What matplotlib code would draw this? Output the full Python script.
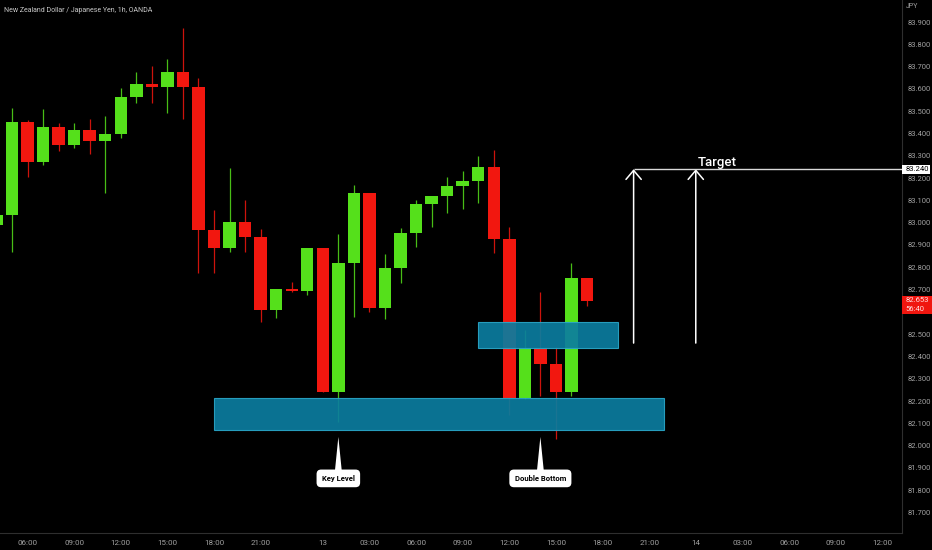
import matplotlib.pyplot as plt
import matplotlib.transforms as mtransforms
from matplotlib.patches import Rectangle, Polygon
import numpy as np

plt.rcParams['font.family'] = ['Roboto', 'DejaVu Sans']

# hourly candles NZD/JPY
opens = [82.990, 83.035, 83.452, 83.272, 83.429, 83.348, 83.416, 83.366, 83.398, 83.564,
         83.622, 83.608, 83.676, 83.608, 82.967, 82.887, 83.003, 82.936, 82.609, 82.703,
         82.694, 82.887, 82.241, 82.819, 83.133, 82.617, 82.797, 82.954, 83.084, 83.120,
         83.165, 83.187, 83.250, 82.927, 82.214, 82.438, 82.366, 82.241, 82.752]
highs = [83.040, 83.514, 83.460, 83.510, 83.447, 83.447, 83.465, 83.478, 83.604, 83.676,
         83.703, 83.734, 83.873, 83.649, 83.057, 83.245, 83.100, 82.970, 82.703, 82.734,
         82.887, 82.887, 82.949, 83.169, 83.133, 82.860, 82.976, 83.102, 83.120, 83.205,
         83.232, 83.300, 83.326, 82.980, 82.519, 82.690, 82.443, 82.819, 82.752]
lows = [82.970, 82.869, 83.205, 83.259, 83.320, 83.335, 83.308, 83.133, 83.380, 83.537,
        83.537, 83.492, 83.465, 82.774, 82.774, 82.869, 82.870, 82.555, 82.573, 82.690,
        82.676, 82.241, 82.106, 82.577, 82.600, 82.568, 82.730, 82.891, 82.980, 83.044,
        83.061, 83.088, 82.864, 82.138, 82.210, 82.223, 82.030, 82.223, 82.627]
closes = [83.035, 83.452, 83.272, 83.429, 83.348, 83.416, 83.366, 83.398, 83.564, 83.622,
          83.608, 83.676, 83.608, 82.967, 82.887, 83.003, 82.936, 82.609, 82.703, 82.694,
          82.887, 82.241, 82.819, 83.133, 82.617, 82.797, 82.954, 83.084, 83.120, 83.165,
          83.187, 83.250, 82.927, 82.214, 82.438, 82.366, 82.241, 82.752, 82.649]

time_ticks = [2, 5, 8, 11, 14, 17, 21, 24, 27, 30, 33, 36, 39, 42, 45, 48, 51, 54, 57]
time_labels = ['06:00', '09:00', '12:00', '15:00', '18:00', '21:00', '13', '03:00', '06:00',
               '09:00', '12:00', '15:00', '18:00', '21:00', '14', '03:00', '06:00', '09:00', '12:00']
# 82.600 sits under the live price label, so it is left out
price_ticks = [81.7, 81.8, 81.9, 82.0, 82.1, 82.2, 82.3, 82.4, 82.5, 82.7,
               82.8, 82.9, 83.0, 83.1, 83.2, 83.3, 83.4, 83.5, 83.6, 83.7, 83.8, 83.9]

# drawn zones: (start bar, end bar, low, high)
key_zone = (14.0, 42.96, 82.070, 82.214)
retest_zone = (31.0, 40.0, 82.438, 82.555)
target_price = 83.240
arrow_bars = [41, 45]
arrow_base = 82.46
last_price = 82.653
countdown = '56:40'
callouts = [('Key Level', 22), ('Double Bottom', 35)]

GREEN = '#55e01b'
RED = '#f2170f'
ZONE = '#0b7d9f'

fig = plt.figure(figsize=(9.32, 5.5), dpi=100, facecolor='black')
ax = fig.add_axes([0, 17 / 550, 902 / 932, 533 / 550])
ax.set_facecolor('black')

x = np.arange(len(opens))
o = np.array(opens)
c = np.array(closes)
colors = [GREEN if cc >= oo else RED for oo, cc in zip(o, c)]

# wicks then bodies
ax.vlines(x, lows, highs, colors=colors, lw=0.9, alpha=0.85, zorder=2)
ax.bar(x, np.abs(c - o), bottom=np.minimum(o, c), width=0.8, color=colors, zorder=3)

# zones
for s, e, lo, hi in [key_zone, retest_zone]:
    ax.add_patch(Rectangle((s, lo), e - s, hi - lo, fc=ZONE, ec='#2aa6c8', lw=0.8,
                           alpha=0.92, zorder=4))

# target arrows and line
for xb in arrow_bars:
    ax.annotate('', xy=(xb, target_price), xytext=(xb, arrow_base),
                arrowprops=dict(arrowstyle='->,head_length=0.65,head_width=0.55',
                                color='white', lw=1.1, shrinkA=0, shrinkB=0), zorder=5)
ax.hlines(target_price, arrow_bars[0], 58.27, color='#d9d9d9', lw=1, zorder=5)
ax.text(arrow_bars[1] + 0.1, target_price, 'Target', color='white', fontsize=9.5,
        fontweight='medium', ha='left', va='bottom', zorder=6)

# callouts
for label, xb in callouts:
    ax.text(xb, 81.853, label, ha='center', va='center', fontsize=5.5, fontweight='bold',
            color='black', zorder=7,
            bbox=dict(boxstyle='round,pad=0.7,rounding_size=0.6', fc='white', ec='none'))
    ax.add_patch(Polygon([[xb - 0.23, 81.88], [xb + 0.23, 81.88], [xb, 82.039]],
                         closed=True, fc='white', ec='none', zorder=7))

ax.set_xlim(0.228, 58.27)
ax.set_ylim(81.608, 83.999)

ax.set_xticks(time_ticks)
ax.set_xticklabels(time_labels)
ax.yaxis.tick_right()
ax.set_yticks(price_ticks)
ax.set_yticklabels([f'{p:.3f}' for p in price_ticks])
ax.tick_params(axis='y', length=0, pad=4, labelsize=5.5, labelcolor='#a0a0a0')
ax.tick_params(axis='x', length=0, pad=5, labelsize=5.8, labelcolor='#a0a0a0')
for side in ['left', 'top']:
    ax.spines[side].set_visible(False)
for side in ['right', 'bottom']:
    ax.spines[side].set_color('#2e2e2e')

# price labels on the scale
trans = mtransforms.blended_transform_factory(ax.transAxes, ax.transData)
ax.add_patch(Rectangle((1.0, target_price - 0.021), 0.031, 0.042, transform=trans,
                       fc='white', ec='none', clip_on=False, zorder=8))
ax.text(1.0035, target_price, f'{target_price:.3f}', transform=trans, fontsize=5.5,
        color='black', va='center', ha='left', zorder=9, clip_on=False)
ax.add_patch(Rectangle((1.0, last_price - 0.062), 0.0333, 0.080, transform=trans,
                       fc='#f0160f', ec='none', clip_on=False, zorder=8))
ax.text(1.0035, last_price - 0.001, f'{last_price:.3f}', transform=trans, fontsize=5.5,
        color='#ffe0e0', va='center', ha='left', zorder=9, clip_on=False)
ax.text(1.0035, last_price - 0.041, countdown, transform=trans, fontsize=5.5,
        color='#ffe0e0', va='center', ha='left', zorder=9, clip_on=False)

fig.text(4 / 932, 1 - 10 / 550, 'New Zealand Dollar / Japanese Yen, 1h, OANDA',
         color='#c8c8c8', fontsize=5, va='center', ha='left')
fig.text(906 / 932, 1 - 7 / 550, 'JPY', color='#a0a0a0', fontsize=5, va='center', ha='left')

fig.savefig('out.png', dpi=100, facecolor='black')
